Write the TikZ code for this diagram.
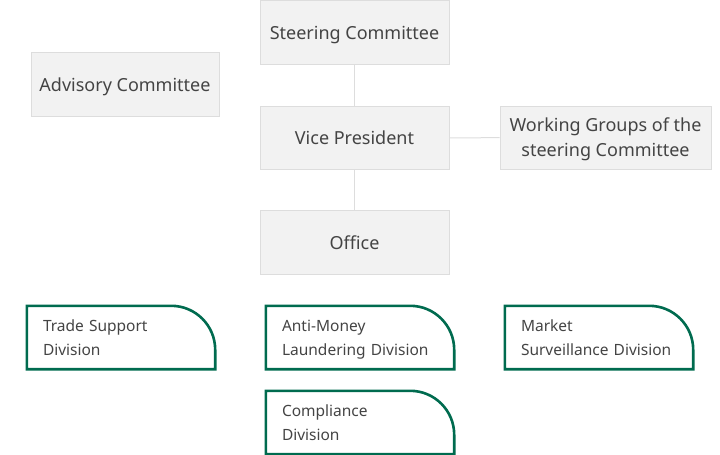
\documentclass[tikz,border=0pt]{standalone}
\usepackage{fontspec}
\setmainfont{Noto Sans}
\definecolor{boxfill}{HTML}{F2F2F2}
\definecolor{boxline}{HTML}{DDDDDD}
\definecolor{divgreen}{HTML}{006B4F}
\definecolor{txt}{HTML}{444444}
\begin{document}
\begin{tikzpicture}[x=1pt,y=-1pt,
  graybox/.style={draw=boxline,fill=boxfill,line width=1pt,inner sep=0pt,
    text=txt,font=\fontsize{18}{25}\selectfont,align=center,text height=13pt,text depth=0pt},
  twolines/.style={text height=38pt,text depth=0pt},
  divbox/.style={inner sep=0pt,minimum width=188pt,minimum height=63pt,
    text=txt,font=\fontsize{15.5}{24}\selectfont,align=left,text width=156pt,
    text height=11pt,text depth=24pt},
  divline/.style={draw=divgreen,line width=2.6pt,line join=miter},
  conn/.style={draw=boxline,line width=1pt}]
\useasboundingbox (0,0) rectangle (720,455);
% gray boxes
\node[graybox,minimum width=189pt,minimum height=64pt] (steer) at (354.5,32.5) {Steering Committee};
\node[graybox,minimum width=188pt,minimum height=64pt] (adv) at (125,84.5) {Advisory Committee};
\node[graybox,minimum width=189pt,minimum height=63pt] (vp) at (354.5,138) {Vice President};
\node[graybox,twolines,minimum width=211pt,minimum height=63pt] (wg) at (605.5,137.5) {Working Groups of the\\steering Committee};
\node[graybox,minimum width=189pt,minimum height=64pt] (off) at (354.5,242.5) {Office};
% connectors
\draw[conn] (steer) -- (vp);
\draw[conn] (vp) -- (off);
\draw[conn] (vp) -- (wg);
% division boxes
\newcommand{\divshape}[1]{%
  \draw[divline] (#1.south west) -- (#1.north west) -- ([xshift=-44pt]#1.north east)
    arc[start angle=90,end angle=0,radius=44pt] -- (#1.south east) -- cycle;}
\node[divbox] (trade) at (121,337.5) {Trade Support\\Division};
\node[divbox] (aml) at (360,337.5) {Anti-Money\\Laundering Division};
\node[divbox] (msd) at (599,337.5) {Market\\Surveillance Division};
\node[divbox] (comp) at (360,422.5) {Compliance\\Division};
\divshape{trade}
\divshape{aml}
\divshape{msd}
\divshape{comp}
\end{tikzpicture}
\end{document}
